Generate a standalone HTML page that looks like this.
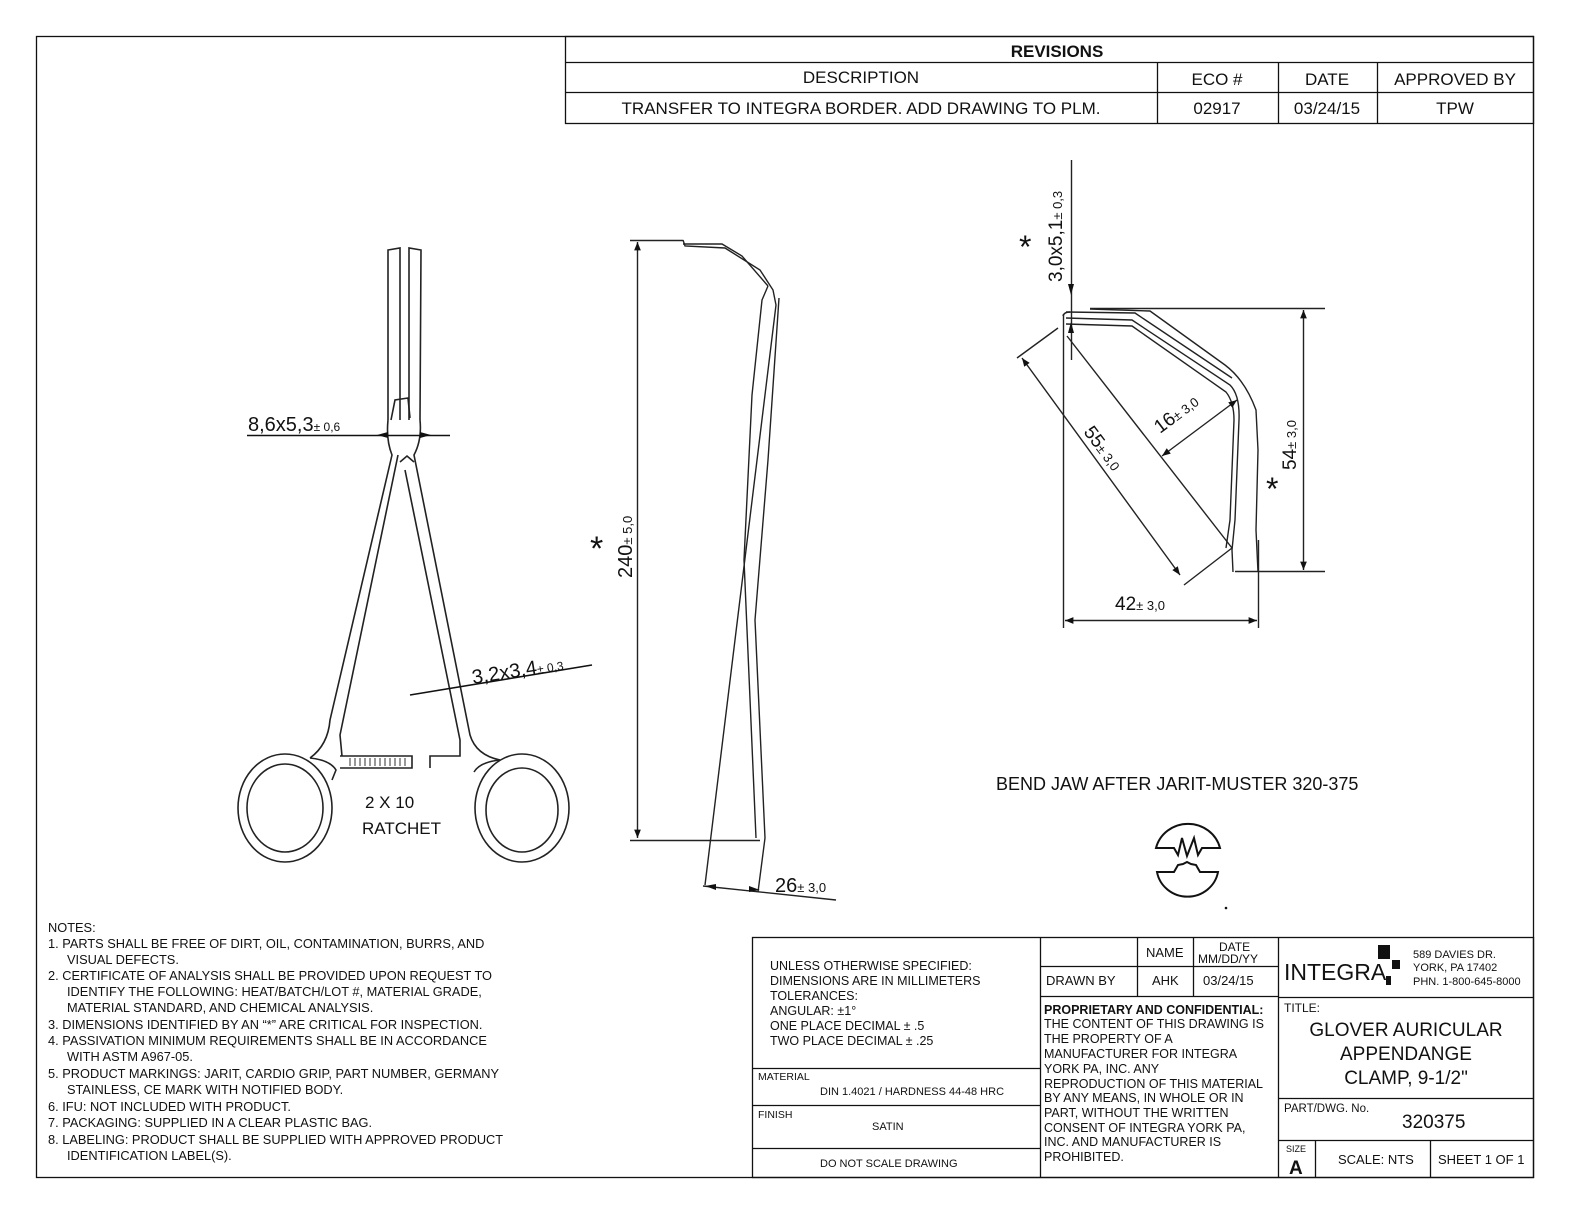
<!DOCTYPE html>
<html><head><meta charset="utf-8"><style>
html,body{margin:0;padding:0;background:#fff}
svg{display:block}
text{font-family:"Liberation Sans",sans-serif;fill:#111}
</style></head><body>
<svg width="1584" height="1224" viewBox="0 0 1584 1224" xmlns="http://www.w3.org/2000/svg">
<defs>
<marker id="a" viewBox="0 0 10 10" refX="10" refY="5" markerWidth="9" markerHeight="6" orient="auto-start-reverse"><path d="M0,1 L10,5 L0,9z" fill="#111"/></marker>
</defs>
<g stroke="#111" fill="none" stroke-width="1.3">
<rect x="36.5" y="36.5" width="1497" height="1141"/>
<!-- revisions -->
<rect x="565.5" y="36.5" width="968" height="87"/>
<line x1="565" y1="62.5" x2="1533" y2="62.5"/>
<line x1="565" y1="92.5" x2="1533" y2="92.5"/>
<line x1="1157.5" y1="62" x2="1157.5" y2="123"/>
<line x1="1278.5" y1="62" x2="1278.5" y2="123"/>
<line x1="1377.5" y1="62" x2="1377.5" y2="123"/>
<!-- title block -->
<rect x="752.5" y="937.5" width="781" height="240"/>
<line x1="1040.5" y1="937" x2="1040.5" y2="1177"/>
<line x1="1278.5" y1="937" x2="1278.5" y2="1177"/>
<line x1="752" y1="1068.5" x2="1040" y2="1068.5"/>
<line x1="752" y1="1105.5" x2="1040" y2="1105.5"/>
<line x1="752" y1="1148.5" x2="1040" y2="1148.5"/>
<line x1="1040" y1="966.5" x2="1278" y2="966.5"/>
<line x1="1040" y1="996.5" x2="1278" y2="996.5"/>
<line x1="1137.5" y1="937" x2="1137.5" y2="996"/>
<line x1="1193.5" y1="937" x2="1193.5" y2="996"/>
<line x1="1278" y1="997.5" x2="1533" y2="997.5"/>
<line x1="1278" y1="1098.5" x2="1533" y2="1098.5"/>
<line x1="1278" y1="1140.5" x2="1533" y2="1140.5"/>
<line x1="1315.5" y1="1140" x2="1315.5" y2="1177"/>
<line x1="1430.5" y1="1140" x2="1430.5" y2="1177"/>
</g>
<rect x="1378" y="945" width="12" height="14" fill="#111"/>
<rect x="1392" y="960" width="8" height="9" fill="#111"/>
<rect x="1386" y="976" width="5" height="9" fill="#111"/>
<g font-size="17" text-anchor="middle">
<text x="1057" y="57" font-weight="bold" font-size="17">REVISIONS</text>
<text x="861" y="83">DESCRIPTION</text>
<text x="1217" y="85">ECO #</text>
<text x="1327" y="85">DATE</text>
<text x="1455" y="85">APPROVED BY</text>
<text x="861" y="114">TRANSFER TO INTEGRA BORDER. ADD DRAWING TO PLM.</text>
<text x="1217" y="114">02917</text>
<text x="1327" y="114">03/24/15</text>
<text x="1455" y="114">TPW</text>
</g>
<g font-size="12.5">
<text x="770" y="970">UNLESS OTHERWISE SPECIFIED:</text>
<text x="770" y="985">DIMENSIONS ARE IN MILLIMETERS</text>
<text x="770" y="1000">TOLERANCES:</text>
<text x="770" y="1015">ANGULAR: ±1°</text>
<text x="770" y="1030">ONE PLACE DECIMAL ± .5</text>
<text x="770" y="1045">TWO PLACE DECIMAL ± .25</text>
<text x="758" y="1080" font-size="10.5">MATERIAL</text>
<text x="820" y="1095" font-size="11">DIN 1.4021 / HARDNESS 44-48 HRC</text>
<text x="758" y="1118" font-size="10.5">FINISH</text>
<text x="872" y="1130" font-size="11">SATIN</text>
<text x="820" y="1167" font-size="11">DO NOT SCALE DRAWING</text>
<text x="1146" y="957" font-size="13">NAME</text>
<text x="1219" y="951" font-size="12">DATE</text>
<text x="1198" y="963" font-size="12">MM/DD/YY</text>
<text x="1046" y="985" font-size="13">DRAWN BY</text>
<text x="1152" y="985" font-size="13">AHK</text>
<text x="1203" y="985" font-size="13">03/24/15</text>
<text x="1044" y="1014" font-weight="bold" font-size="12.5">PROPRIETARY AND CONFIDENTIAL:</text>
<text x="1044" y="1028">THE CONTENT OF THIS DRAWING IS</text>
<text x="1044" y="1043">THE PROPERTY OF A</text>
<text x="1044" y="1058">MANUFACTURER FOR INTEGRA</text>
<text x="1044" y="1073">YORK PA, INC. ANY</text>
<text x="1044" y="1088">REPRODUCTION OF THIS MATERIAL</text>
<text x="1044" y="1102">BY ANY MEANS, IN WHOLE OR IN</text>
<text x="1044" y="1117">PART, WITHOUT THE WRITTEN</text>
<text x="1044" y="1132">CONSENT OF INTEGRA YORK PA,</text>
<text x="1044" y="1146">INC. AND MANUFACTURER IS</text>
<text x="1044" y="1161">PROHIBITED.</text>
<text x="1284" y="980" font-size="23">INTEGRA</text>
<text x="1413" y="958" font-size="11">589 DAVIES DR.</text>
<text x="1413" y="971" font-size="11">YORK, PA 17402</text>
<text x="1413" y="985" font-size="11">PHN. 1-800-645-8000</text>
<text x="1284" y="1012" font-size="12">TITLE:</text>
<g font-size="19" text-anchor="middle">
<text x="1406" y="1036">GLOVER AURICULAR</text>
<text x="1406" y="1060">APPENDANGE</text>
<text x="1406" y="1084">CLAMP, 9-1/2"</text>
</g>
<text x="1284" y="1112" font-size="11.5">PART/DWG. No.</text>
<text x="1402" y="1128" font-size="19">320375</text>
<text x="1286" y="1152" font-size="9">SIZE</text>
<text x="1289" y="1174" font-size="19" font-weight="bold">A</text>
<text x="1338" y="1164" font-size="13">SCALE: NTS</text>
<text x="1438" y="1164" font-size="13">SHEET 1 OF 1</text>
</g>
<!-- notes -->
<g font-size="12.8">
<text x="48" y="932">NOTES:</text>
<text x="48" y="948">1.  PARTS SHALL BE FREE OF DIRT, OIL, CONTAMINATION, BURRS, AND</text>
<text x="67" y="964">VISUAL DEFECTS.</text>
<text x="48" y="980">2.  CERTIFICATE OF ANALYSIS SHALL BE PROVIDED UPON REQUEST TO</text>
<text x="67" y="996">IDENTIFY THE FOLLOWING: HEAT/BATCH/LOT #, MATERIAL GRADE,</text>
<text x="67" y="1012">MATERIAL STANDARD, AND CHEMICAL ANALYSIS.</text>
<text x="48" y="1029">3.  DIMENSIONS IDENTIFIED BY AN “*” ARE CRITICAL FOR INSPECTION.</text>
<text x="48" y="1045">4.  PASSIVATION MINIMUM REQUIREMENTS SHALL BE IN ACCORDANCE</text>
<text x="67" y="1061">WITH ASTM A967-05.</text>
<text x="48" y="1078">5.  PRODUCT MARKINGS: JARIT, CARDIO GRIP, PART NUMBER, GERMANY</text>
<text x="67" y="1094">STAINLESS, CE MARK WITH NOTIFIED BODY.</text>
<text x="48" y="1111">6.  IFU: NOT INCLUDED WITH PRODUCT.</text>
<text x="48" y="1127">7.  PACKAGING: SUPPLIED IN A CLEAR PLASTIC BAG.</text>
<text x="48" y="1144">8.  LABELING: PRODUCT SHALL BE SUPPLIED WITH APPROVED PRODUCT</text>
<text x="67" y="1160">IDENTIFICATION LABEL(S).</text>
</g>
<!-- left clamp -->
<g stroke="#222" fill="none" stroke-width="1.6">
<path d="M388,420 L388,250 L400,248 L400,420"/>
<path d="M409,420 L409,248 L421,250 L420,420"/>
<path d="M391,420 L395,400 L408,398 L410,418"/>
<path d="M388,420 Q386,440 392,455 L330,720 Q328,745 310,758"/>
<path d="M398,455 L340,735 L342,756"/>
<path d="M420,420 Q422,440 414,455 L470,735 Q476,755 500,760"/>
<path d="M405,470 L460,740 L460,756 L430,756 L430,768"/>
<path d="M340,756 L412,756 L412,768 L340,768"/>
<path d="M400,462 L407,456 L414,462"/>
<ellipse cx="285" cy="808" rx="47" ry="54"/>
<ellipse cx="285" cy="808" rx="38" ry="44"/>
<ellipse cx="522" cy="808" rx="47" ry="54"/>
<ellipse cx="522" cy="810" rx="36" ry="42"/>
<path d="M310,758 Q330,760 336,770 L332,780"/>
<path d="M500,760 Q480,762 474,772"/>
<line x1="247" y1="435.5" x2="450" y2="435.5" stroke="#111"/>
<line x1="410" y1="695" x2="592" y2="665" stroke="#111"/>
</g>
<g stroke="#333" stroke-width="1">
<line x1="350" y1="758" x2="350" y2="766"/><line x1="355" y1="758" x2="355" y2="766"/><line x1="360" y1="758" x2="360" y2="766"/><line x1="365" y1="758" x2="365" y2="766"/><line x1="370" y1="758" x2="370" y2="766"/><line x1="375" y1="758" x2="375" y2="766"/><line x1="380" y1="758" x2="380" y2="766"/><line x1="385" y1="758" x2="385" y2="766"/><line x1="390" y1="758" x2="390" y2="766"/><line x1="395" y1="758" x2="395" y2="766"/><line x1="400" y1="758" x2="400" y2="766"/><line x1="405" y1="758" x2="405" y2="766"/>
</g>
<path d="M377,435 L388,432 L388,438z M431,435 L420,432 L420,438z" fill="#111"/>
<text x="248" y="431" font-size="20">8,6x5,3<tspan font-size="12">± 0,6</tspan></text>
<text x="0" y="0" font-size="20" transform="translate(473,684) rotate(-9)">3,2x3,4<tspan font-size="12">± 0,3</tspan></text>
<text x="365" y="808" font-size="17">2 X 10</text>
<text x="362" y="834" font-size="17">RATCHET</text>
<!-- middle view -->
<g stroke="#222" fill="none" stroke-width="1.4">
<line x1="630" y1="240.5" x2="683" y2="240.5"/>
<line x1="630" y1="840.5" x2="760" y2="840.5"/>
<line x1="637.5" y1="242" x2="637.5" y2="838" marker-start="url(#a)" marker-end="url(#a)"/>
<path d="M683,240 L685,246 L725,248 L760,270 L773,290 L776,305 L705,885"/>
<path d="M683,244 L722,244 L742,256 L768,286"/>
<path d="M768,286 L762,300 L752,395 L744,560 L756,838"/>
<path d="M779,298 L768,460 L755,620 L765,838 L758,892"/>
<line x1="703" y1="886" x2="836" y2="900"/>
</g>
<path d="M705,886 L716,884 L716,890z M760,890 L749,886 L749,892z" fill="#111"/>
<text x="775" y="892" font-size="20">26<tspan font-size="13">± 3,0</tspan></text>
<text x="0" y="0" font-size="20" transform="translate(632,578) rotate(-90)">240<tspan font-size="13">± 5,0</tspan></text>
<text x="590" y="560" font-size="34">*</text>
<!-- right view -->
<g stroke="#222" fill="none" stroke-width="1.4">
<line x1="1071.5" y1="160" x2="1071.5" y2="360"/>
<line x1="1090" y1="308.5" x2="1325" y2="308.5"/>
<line x1="1063.5" y1="314" x2="1063.5" y2="628"/>
<line x1="1258.5" y1="540" x2="1258.5" y2="628"/>
<line x1="1235" y1="571.5" x2="1325" y2="571.5"/>
<line x1="1303.5" y1="310" x2="1303.5" y2="570" marker-start="url(#a)" marker-end="url(#a)"/>
<line x1="1065" y1="620.5" x2="1257" y2="620.5" marker-start="url(#a)" marker-end="url(#a)"/>
<path d="M1066,318 L1132,320 L1230,385 Q1240,395 1239,420 L1235,520 L1232,550 L1233,572"/>
<path d="M1066,324 L1132,326 L1226,392 Q1234,402 1234,420 L1230,520 L1226,548"/>
<path d="M1066,312 L1135,313 L1232,378"/>
<path d="M1090,309 L1150,311 L1225,365 Q1245,380 1256,410 L1258,450 L1256,530 L1258,572"/>
<path d="M1063,316 Q1064,312 1070,312"/>
<line x1="1067" y1="336" x2="1232" y2="548"/>
<line x1="1058" y1="328" x2="1017" y2="358"/>
<line x1="1232" y1="548" x2="1184" y2="585"/>
<line x1="1022" y1="358" x2="1180" y2="575" marker-start="url(#a)" marker-end="url(#a)"/>
<line x1="1162" y1="456" x2="1237" y2="400" marker-start="url(#a)" marker-end="url(#a)"/>
</g>
<path d="M1071,295 L1068,284 L1074,284z M1071,322 L1068,333 L1074,333z" fill="#111"/>
<text x="0" y="0" font-size="19" transform="translate(1062,282) rotate(-90)">3,0x5,1<tspan font-size="13">± 0,3</tspan></text>
<text x="1019" y="258" font-size="32">*</text>
<text x="0" y="0" font-size="19" transform="translate(1296,470) rotate(-90)">54<tspan font-size="13">± 3,0</tspan></text>
<text x="1266" y="500" font-size="32">*</text>
<text x="0" y="0" font-size="19" transform="translate(1083,432) rotate(53)">55<tspan font-size="13">± 3,0</tspan></text>
<text x="0" y="0" font-size="19" transform="translate(1160,434) rotate(-37)">16<tspan font-size="13">± 3,0</tspan></text>
<text x="1115" y="610" font-size="19">42<tspan font-size="13">± 3,0</tspan></text>
<text x="996" y="790" font-size="18">BEND JAW AFTER JARIT-MUSTER 320-375</text>
<g stroke="#111" fill="none" stroke-width="2">
<path d="M1156,848 A33,32 0 0 1 1220,848 L1202,848 L1198,855 L1194,838 L1187,856 L1182,838 L1178,855 L1174,848 Z"/>
<path d="M1157,872 A31,30 0 0 0 1218,872 L1200,872 L1196,865 L1191,864 L1187,862 L1183,864 L1178,865 L1174,872 Z"/>
</g>
<circle cx="1226" cy="908" r="1.3" fill="#111"/>
</svg>
</body></html>
